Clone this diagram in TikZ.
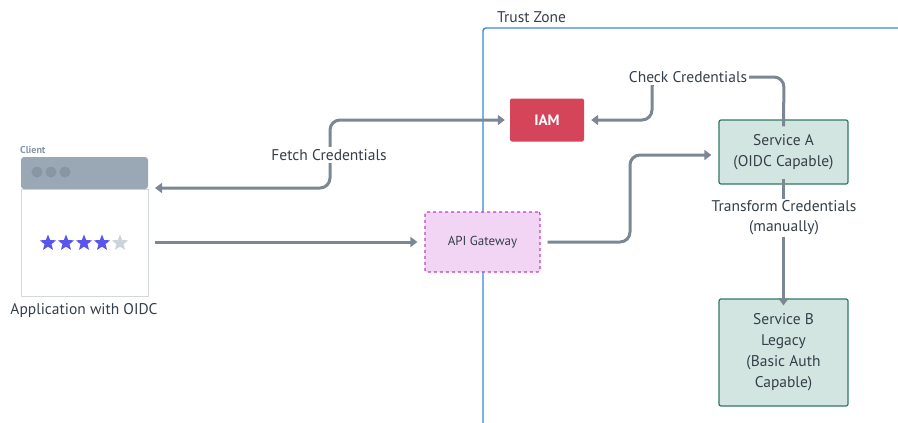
\documentclass[tikz,border=0pt]{standalone}
\usepackage{fontspec}
\setmainfont{PT Sans}
\usetikzlibrary{arrows.meta,shapes.geometric}
\definecolor{linegray}{HTML}{7B8794}
\definecolor{txt}{HTML}{353F49}
\definecolor{zoneblue}{HTML}{3A87D6}
\definecolor{iamred}{HTML}{D4455A}
\definecolor{gwfill}{HTML}{F2D5F5}
\definecolor{gwdraw}{HTML}{BF3FCB}
\definecolor{svfill}{HTML}{D3E5E0}
\definecolor{svdraw}{HTML}{2E7A65}
\definecolor{hdrgray}{HTML}{9AA8B5}
\definecolor{dotgray}{HTML}{8796A4}
\definecolor{starpurple}{HTML}{5B55F0}
\definecolor{stargray}{HTML}{CDD3DA}
\definecolor{bodyborder}{HTML}{D3D8DD}
\begin{document}
\begin{tikzpicture}[x=1pt,y=-1pt,
  font=\fontsize{15.5}{18}\selectfont,
  conn/.style={draw=linegray,line width=3pt,rounded corners=10pt},
  tip/.style={-{Triangle[length=7pt,width=10pt]}},
  lbl/.style={fill=white,text=txt,inner sep=2pt,align=center,font=\fontsize{15.5}{20}\selectfont},
  service/.style={draw=svdraw,line width=1.2pt,fill=svfill,rounded corners=2pt,minimum width=129pt,text=txt,align=center,font=\fontsize{15.5}{21}\selectfont},
  staricon/.style={star,star points=5,star point ratio=2.3,minimum size=17pt,inner sep=0pt},
  dot/.style={circle,fill=dotgray,minimum size=11pt,inner sep=0pt}]
\useasboundingbox (0,0) rectangle (898,423);
% trust zone
\draw[zoneblue,line width=1.4pt,rounded corners=3pt] (483,423) -- (483,28) -- (900,28);
\node[anchor=west,text=txt,inner sep=0pt] (tz) at (497,17) {Trust Zone};
% client
\node[anchor=south west,text=dotgray,inner sep=0pt,font=\fontsize{10}{11}\selectfont\bfseries] (clientlbl) at (20,154) {Client};
\draw[bodyborder,line width=1pt,fill=white] (21,189) rectangle (148,296);
\fill[hdrgray,rounded corners=3pt] (21,189) -- (21,157) -- (148,157) -- (148,189) -- cycle;
\node[dot] (d1) at (37,172) {};
\node[dot] (d2) at (51,172) {};
\node[dot] (d3) at (65,172) {};
\node[staricon,fill=starpurple] (s1) at (48,243) {};
\node[staricon,fill=starpurple] (s2) at (66,243) {};
\node[staricon,fill=starpurple] (s3) at (84,243) {};
\node[staricon,fill=starpurple] (s4) at (102,243) {};
\node[staricon,fill=stargray] (s5) at (120,243) {};
\coordinate (clientE1) at (155,188);
\coordinate (clientE2) at (155,242);
\node[text=txt] (applbl) at (84,311) {Application with OIDC};
% IAM
\node[fill=iamred,rounded corners=2pt,minimum width=74pt,minimum height=43pt,text=white,font=\fontsize{15}{18}\selectfont\bfseries] (iam) at (547,120) {IAM};
% API gateway
\node[draw=gwdraw,dashed,line width=1.2pt,fill=gwfill,rounded corners=2pt,minimum width=115pt,minimum height=60pt,text=txt,font=\fontsize{13}{15}\selectfont] (gw) at (482.5,242) {API Gateway};
% services
\node[service,minimum height=64pt] (sa) at (783.5,152) {Service A\\(OIDC Capable)};
\node[service,minimum height=107pt] (sb) at (783.5,352.5) {Service B\\Legacy\\(Basic Auth\\Capable)};
% connectors
\draw[conn,{Triangle[length=7pt,width=10pt]}-{Triangle[length=7pt,width=10pt]}] (clientE1) -- (330,188) -- (330,120) -- ([xshift=-5pt]iam.west);
\node[lbl] (fetch) at (329,155) {Fetch Credentials};
\draw[conn,tip] ([yshift=-7pt]sa.north) -- (784,77) -- (652,77) -- (652,120) -- ([xshift=7pt]iam.east);
\node[lbl] (check) at (688,77) {Check Credentials};
\draw[conn,tip] (clientE2) -- ([xshift=-7pt]gw.west);
\draw[conn,tip] ([xshift=7pt]gw.east) -- (630,242) -- (630,155) -- ([xshift=-7pt]sa.west |- 0,155);
\draw[conn,tip] ([yshift=6pt]sa.south) -- ([yshift=-7pt]sb.north);
\node[lbl] (trans) at (784,218) {Transform Credentials\\(manually)};
\end{tikzpicture}
\end{document}
